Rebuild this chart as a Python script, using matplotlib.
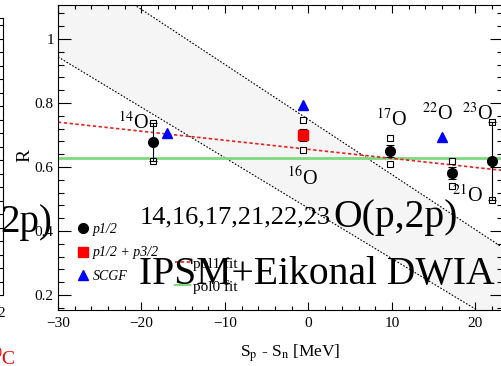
import numpy as np
import matplotlib
matplotlib.use('Agg')
import matplotlib.pyplot as plt
from matplotlib.ticker import MultipleLocator
from matplotlib.lines import Line2D

plt.rcParams['font.family'] = 'serif'
plt.rcParams['font.serif'] = ['Liberation Serif', 'DejaVu Serif']
plt.rcParams['mathtext.fontset'] = 'stix'

# data
p12_x = [-18.6, 9.8, 17.2, 22.0]
p12_y = [0.678, 0.650, 0.581, 0.619]
p12_err = [0.060, 0.020, 0.018, 0.122]
p12_sys_lo = [0.619, 0.609, 0.540, 0.497]
p12_sys_hi = [0.738, 0.690, 0.619, 0.741]

p13_x = [-0.66]
p13_y = [0.700]
p13_err = [0.019]
p13_sys_lo = [0.653]
p13_sys_hi = [0.747]

scgf_x = [-17.0, -0.66, 16.0]
scgf_y = [0.706, 0.794, 0.694]

pol0 = 0.628
pol1 = (0.655, -0.00283)          # intercept, slope
band_hi = (0.748, -0.0172)
band_lo = (0.471, -0.01576)

iso_labels = [r'$^{14}$O', r'$^{16}$O', r'$^{17}$O', r'$^{21}$O', r'$^{22}$O', r'$^{23}$O']
iso_x = [-21.0, -0.66, 10.0, 19.1, 15.4, 20.2]
iso_y = [0.740, 0.566, 0.747, 0.510, 0.766, 0.766]

W, H = 501, 366
fig = plt.figure(figsize=(W / 100, H / 100), dpi=100)


def box(x0, y0, x1, y1):
    return [x0 / W, 1 - y1 / H, (x1 - x0) / W, (y1 - y0) / H]


# piece of the neighbouring panel cut off at the left
ax0 = fig.add_axes(box(-300, 18, 3, 295))
ax0.set_xlim(0, 1)
ax0.set_ylim(0, 277)
ax0.yaxis.set_major_locator(MultipleLocator(13.5))
ax0.tick_params(axis='y', which='both', direction='in', left=False, right=True,
                labelleft=False, length=6, width=0.8)
ax0.set_xticks([])
for s in ['left', 'bottom']:
    ax0.spines[s].set_visible(False)
for s in ['top', 'right']:
    ax0.spines[s].set_linewidth(0.8)
fig.text(52 / W, 1 - 232 / H, '2p)', fontsize=28, ha='right', va='baseline')
fig.text(5 / W, 1 - 317 / H, '2', fontsize=11, ha='right', va='baseline')
fig.text(16 / W, 1 - 365 / H, r'$^{10}$C', fontsize=14, ha='right', va='baseline', color='red')

# main panel
ax = fig.add_axes(box(58, 5, 503, 310))
xmin, xmax = -30, 23.3
ax.set_xlim(xmin, xmax)
ax.set_ylim(0.153, 1.106)

xx = np.array([xmin, xmax])
ax.fill_between(xx, band_lo[0] + band_lo[1] * xx, band_hi[0] + band_hi[1] * xx,
                color='#f5f5f5', zorder=0, lw=0)
ax.plot(xx, band_hi[0] + band_hi[1] * xx, color='black', ls=(0, (1.5, 1.5)), lw=0.8, zorder=1)
ax.plot(xx, band_lo[0] + band_lo[1] * xx, color='black', ls=(0, (1.5, 1.5)), lw=0.8, zorder=1)

ax.axhline(pol0, color='#7ed87e', lw=2, zorder=2)
ax.plot(xx, pol1[0] + pol1[1] * xx, color='#e82020', ls=(0, (2, 1.5)), lw=1.2, zorder=2)

# systematic brackets
ax.plot(p12_x, p12_sys_lo, 's', ms=4, mfc='white', mec='black', mew=0.8, zorder=3)
ax.plot(p12_x, p12_sys_hi, 's', ms=4, mfc='white', mec='black', mew=0.8, zorder=3)
ax.plot(p13_x, p13_sys_lo, 's', ms=4, mfc='white', mec='black', mew=0.8, zorder=3)
ax.plot(p13_x, p13_sys_hi, 's', ms=4, mfc='white', mec='black', mew=0.8, zorder=3)

ax.errorbar(p12_x, p12_y, yerr=p12_err, fmt='o', color='black', ms=7, capsize=3,
            elinewidth=0.8, capthick=0.8, zorder=4)
ax.errorbar(p13_x, p13_y, yerr=p13_err, fmt='s', color='red', mec='red', ecolor='black',
            ms=7, capsize=3, elinewidth=0.8, capthick=0.8, zorder=4)
ax.plot(scgf_x, scgf_y, '^', color='blue', ms=7, zorder=4)

for lab, x, y in zip(iso_labels, iso_x, iso_y):
    ax.text(x, y, lab, fontsize=14.5, ha='center', va='center', zorder=5)

ax.xaxis.set_major_locator(MultipleLocator(10))
ax.xaxis.set_minor_locator(MultipleLocator(2))
ax.yaxis.set_major_locator(MultipleLocator(0.2))
ax.yaxis.set_minor_locator(MultipleLocator(0.04))
ax.tick_params(which='both', direction='in', top=True, right=True, width=0.8, labelsize=11)
ax.tick_params(axis='x', which='major', length=6, pad=5)
ax.tick_params(axis='x', which='minor', length=3)
ax.tick_params(axis='y', which='major', length=9.5, pad=3)
ax.tick_params(axis='y', which='minor', length=4.5)
ax.set_yticks([0.2, 0.4, 0.6, 0.8, 1.0], ['0.2', '0.4', '0.6', '0.8', '1'])
ax.set_xticks([-30, -20, -10, 0, 10, 20], ['\u221230', '\u221220', '\u221210', '0', '10', '20'])
for s in ax.spines.values():
    s.set_linewidth(0.8)

ax.set_xlabel(r'S$_{\rm p}$ - S$_{\rm n}$ [MeV]', fontsize=12.5)
ax.xaxis.set_label_coords((290 - 58) / 445, -(342 - 310) / 305)
ax.set_ylabel('R', fontsize=14)
ax.yaxis.set_label_coords(-(58 - 33) / 445, (310 - 155) / 305)

h1 = [Line2D([], [], marker='o', color='black', ls='none', ms=7),
      Line2D([], [], marker='s', color='red', ls='none', ms=7),
      Line2D([], [], marker='^', color='blue', ls='none', ms=7)]
leg1 = ax.legend(h1, ['p1/2', 'p1/2 + p3/2', 'SCGF'], loc='upper left',
                 bbox_to_anchor=((76 - 58) / 445, (310 - 223) / 305), frameon=False,
                 borderpad=0, borderaxespad=0, handlelength=1.0, handletextpad=0.2,
                 labelspacing=0.75, prop={'size': 10, 'style': 'italic'})
ax.add_artist(leg1)
h2 = [Line2D([], [], color='#e82020', ls=(0, (2, 1.5)), lw=1.2),
      Line2D([], [], color='#7ed87e', lw=1.5)]
ax.legend(h2, ['pol1 fit', 'pol0 fit'], loc='upper left',
          bbox_to_anchor=((175 - 58) / 445, (310 - 257) / 305), frameon=False,
          borderpad=0, borderaxespad=0, handlelength=1.0, handletextpad=0.2,
          labelspacing=0.6, prop={'size': 11})

fig.text(140 / W, 1 - 223 / H, '14,16,17,21,22,23', fontsize=19, va='baseline', zorder=10)
fig.text(333 / W, 1 - 227 / H, 'O(p,2p)', fontsize=28.5, va='baseline', zorder=10)
fig.text(139 / W, 1 - 284 / H, 'IPSM+Eikonal DWIA', fontsize=28.5, va='baseline', zorder=10)

fig.savefig('out.png', dpi=100)
